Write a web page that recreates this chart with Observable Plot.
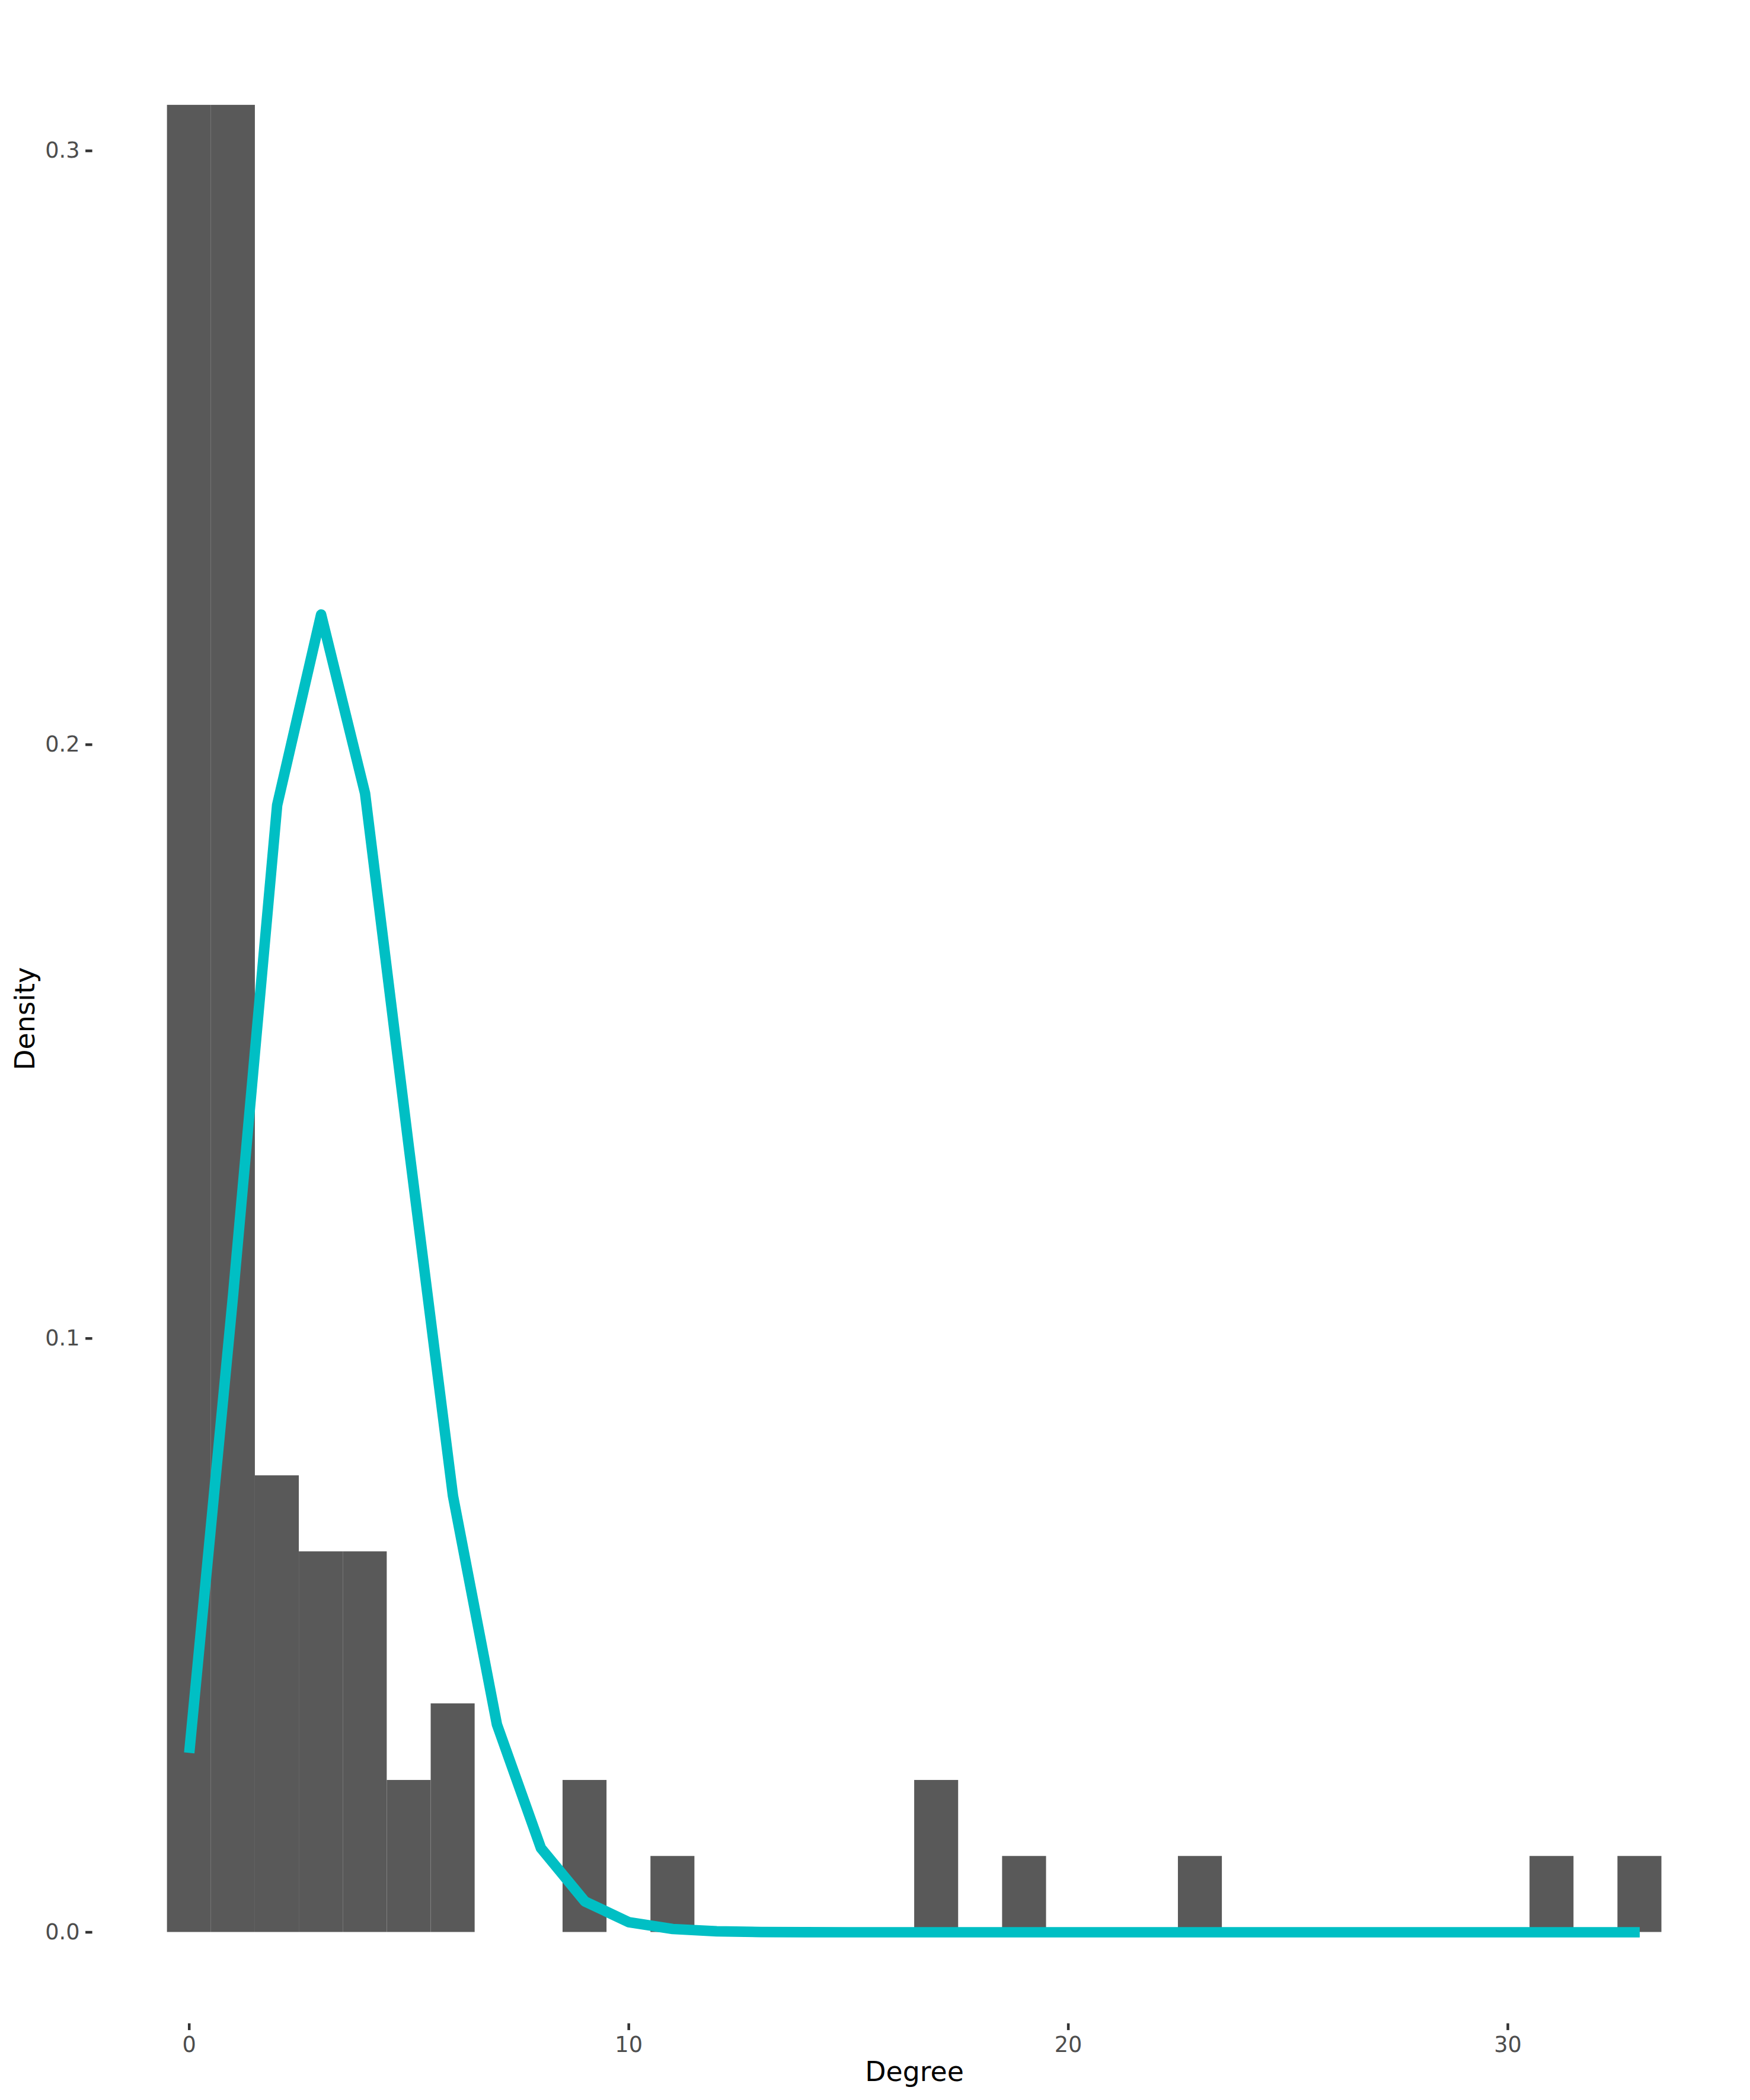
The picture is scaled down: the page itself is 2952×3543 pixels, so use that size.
<!DOCTYPE html>
<html>
<head>
<meta charset="utf-8">
<script src="https://cdn.jsdelivr.net/npm/d3@7"></script>
<script src="https://cdn.jsdelivr.net/npm/@observablehq/plot@0.6"></script>
<style>
  html, body { margin: 0; padding: 0; background: #ffffff; }
  svg { display: block; }
</style>
</head>
<body>
<div id="chart"></div>
<script>
// Histogram bins (centred on integer degree, width 1)
const barDegree  = [0, 1, 2, 3, 4, 5, 6, 9, 11, 17, 19, 23, 31, 33];
const barDensity = [0.3077, 0.3077, 0.0769, 0.0641, 0.0641, 0.0256, 0.0385, 0.0256, 0.0128, 0.0256, 0.0128, 0.0128, 0.0128, 0.0128];

// Fitted distribution line, one point per integer degree
const lineDegree = [0,1,2,3,4,5,6,7,8,9,10,11,12,13,14,15,16,17,18,19,20,21,22,23,24,25,26,27,28,29,30,31,32,33];
const lineDensity = [0.0302, 0.1075, 0.1898, 0.2219, 0.1918, 0.1320, 0.0735, 0.0350, 0.0142, 0.0052, 0.0017,
                     0.00055, 0.00016, 0.00004, 0.00001, 0, 0, 0, 0, 0, 0, 0, 0, 0, 0, 0, 0, 0, 0, 0, 0, 0, 0, 0];

const xTicks = [0, 10, 20, 30];
const yTicks = [0, 0.1, 0.2, 0.3];
const xTitle = "Degree";
const yTitle = "Density";

const bars = barDegree.map((d, i) => ({x1: d - 0.5, x2: d + 0.5, density: barDensity[i]}));
const fit = lineDegree.map((d, i) => ({degree: d, density: lineDensity[i]}));

const chart = Plot.plot({
  width: 2952,
  height: 3543,
  marginLeft: 155.6,
  marginRight: 23.4,
  marginTop: 22.8,
  marginBottom: 129.4,
  style: {fontFamily: "'DejaVu Sans', sans-serif", background: "#ffffff"},
  x: {domain: [-2.2, 35.2]},
  y: {domain: [-0.01538, 0.32308]},
  marks: [
    Plot.rectY(bars, {x1: "x1", x2: "x2", y1: 0, y2: "density", fill: "#595959"}),
    Plot.line(fit, {x: "degree", y: "density", stroke: "#00BFC4", strokeWidth: 17.7,
                    strokeLinejoin: "round", strokeLinecap: "butt"}),
    Plot.axisX({ticks: xTicks, tickSize: 11.5, tickPadding: 10, fontSize: 36.7,
                stroke: "#333333", strokeWidth: 4.5, fill: "#4D4D4D", label: null,
                tickFormat: d3.format("d")}),
    Plot.axisY({ticks: yTicks, tickSize: 11.5, tickPadding: 10, fontSize: 36.7,
                stroke: "#333333", strokeWidth: 4.5, fill: "#4D4D4D", label: null,
                tickFormat: d3.format(".1f")}),
    Plot.text([xTitle], {frameAnchor: "bottom", dy: 82, textAnchor: "middle", lineAnchor: "middle",
                         fontSize: 45.8, fill: "#000000"}),
    Plot.text([yTitle], {frameAnchor: "left", dx: -113, rotate: -90, textAnchor: "middle", lineAnchor: "middle",
                         fontSize: 45.8, fill: "#000000"})
  ]
});

document.getElementById("chart").appendChild(chart);
</script>
</body>
</html>
